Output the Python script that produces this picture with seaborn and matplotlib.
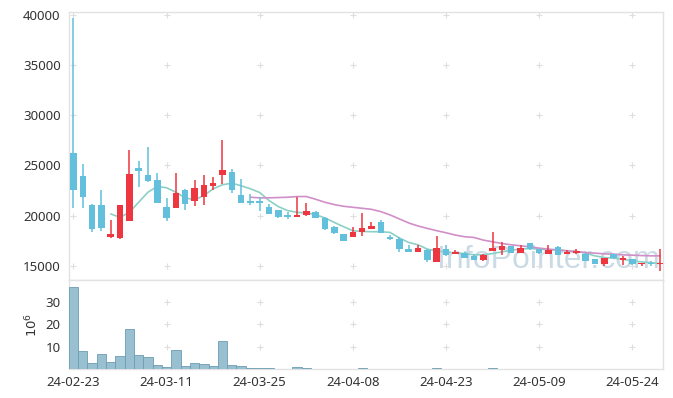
import numpy as np
import matplotlib
matplotlib.use("Agg")
import matplotlib.pyplot as plt
import seaborn as sns

# daily candles (KRW)
opens = [26200, 23900, 21100, 21100, 17900, 17800, 19500, 24700, 24000, 23500,
         20900, 20800, 22500, 21500, 21900, 22950, 24050, 24300, 22100, 21500,
         21500, 20900, 20550, 20100, 19850, 20030, 20370, 19770, 18830, 18170,
         17900, 18400, 18700, 19330, 17830, 17700, 16670, 16430, 16600, 15430,
         16700, 16170, 16300, 16000, 15600, 16500, 16600, 17000, 16330, 17230,
         16670, 16230, 16900, 16170, 16270, 16230, 15650, 15170, 16170, 15600,
         15650, 15200, 15300, 15150]
highs = [39700, 25100, 21150, 22500, 19600, 21100, 26500, 25400, 26800, 24200,
         21800, 24200, 22650, 23500, 24000, 23800, 27500, 24600, 23600, 22200,
         21850, 21150, 20600, 20330, 21900, 21270, 20450, 19850, 19000, 18200,
         18830, 20230, 19400, 19570, 18030, 17900, 17100, 17100, 16650, 18000,
         17100, 16570, 16350, 16230, 16170, 18330, 17330, 17000, 17100, 17270,
         16700, 17070, 16970, 16570, 16730, 16330, 15700, 15830, 16230, 16000,
         15670, 15330, 15500, 16700]
lows = [20800, 20800, 18350, 18500, 17800, 17650, 19450, 22800, 23300, 21250,
        19500, 20750, 20600, 21000, 21100, 22500, 23100, 22300, 21250, 21100,
        20450, 20130, 19800, 19650, 19830, 20000, 19750, 18570, 18200, 17450,
        17830, 18000, 18670, 18230, 17600, 16430, 16400, 16400, 15430, 15400,
        16000, 16170, 15800, 15600, 15530, 16470, 16100, 16270, 16300, 16630,
        16230, 16200, 16070, 16150, 16170, 15470, 15170, 15000, 15700, 15070,
        15100, 14970, 15000, 14500]
closes = [22500, 21900, 18700, 18800, 18200, 21100, 24100, 24450, 23400, 21300,
          19800, 22300, 21200, 22700, 23000, 23200, 24500, 22500, 21300, 21300,
          21250, 20170, 19830, 19900, 20100, 20500, 19770, 18700, 18230, 17500,
          18400, 18800, 18930, 18230, 17630, 16700, 16430, 16800, 15600, 16830,
          16100, 16430, 15830, 15600, 16100, 16830, 17000, 16270, 16770, 16670,
          16270, 16600, 16100, 16400, 16500, 15500, 15170, 15770, 15770, 15700,
          15150, 15300, 15150, 15250]

# volume in millions of shares
volume = [36.3, 8.1, 2.6, 6.6, 3.0, 5.7, 17.9, 6.2, 5.3, 1.7,
          0.8, 8.4, 1.2, 2.6, 2.1, 1.2, 12.5, 1.7, 1.2, 0.4,
          0.3, 0.3, 0, 0, 0.9, 0.4, 0, 0, 0, 0,
          0, 0.3, 0, 0, 0, 0, 0, 0, 0, 0.3,
          0, 0, 0, 0, 0, 0.3, 0, 0, 0, 0,
          0, 0, 0, 0, 0, 0, 0, 0, 0, 0,
          0, 0, 0, 0]

# moving averages as drawn (5-day starts at candle 4, 20-day at candle 19)
ma5 = [20170, 19830, 20330, 21330, 22330, 22900, 22770, 22330, 21770, 21570,
       22000, 22670, 23070, 23230, 22970, 22670, 22300, 21500, 20900, 20500,
       20330, 20270, 20100, 19770, 19330, 18900, 18500, 18430, 18400, 18400,
       18330, 17770, 17330, 17100, 16670, 16500, 16380, 16280, 16230, 16100,
       16100, 16230, 16400, 16570, 16670, 16730, 16670, 16600, 16570, 16500,
       16430, 16270, 16000, 15830, 15770, 15670, 15500, 15400, 15330, 15230]
ma20 = [21830, 21770, 21770, 21800, 21830, 21900, 21900, 21630, 21330, 21100,
        20930, 20830, 20730, 20630, 20400, 20070, 19670, 19270, 18970, 18730,
        18500, 18300, 18070, 17900, 17830, 17570, 17400, 17230, 17100, 17000,
        16900, 16770, 16670, 16600, 16500, 16430, 16330, 16270, 16200, 16170,
        16100, 16070, 16030, 16000, 16000]

tick_idx = [0, 10, 20, 30, 40, 50, 60]
tick_labels = ["24-02-23", "24-03-11", "24-03-25", "24-04-08",
               "24-04-23", "24-05-09", "24-05-24"]
price_ticks = [15000, 20000, 25000, 30000, 35000, 40000]
vol_ticks = [10, 20, 30]

UP = "#ee3640"
DOWN = "#62c0dc"
TXT = "#333333"
EDGE = "#e2e2e2"

sns.set_style("white")
plt.rcParams["font.family"] = ["Noto Sans", "DejaVu Sans"]

fig = plt.figure(figsize=(6.73, 3.98), dpi=100)
ax = fig.add_axes([69 / 673, 1 - 280 / 398, 594 / 673, 268 / 398])
axv = fig.add_axes([69 / 673, 1 - 369 / 398, 594 / 673, 89 / 398], sharex=ax)

x = np.arange(len(opens))
o = np.array(opens)
c = np.array(closes)
up = c >= o
cols = np.where(up, UP, DOWN)

# watermark sits behind the marks
ax.text(0.807, 0.045, "InfoPointer.com", transform=ax.transAxes, ha="center",
        va="baseline", fontsize=23, color="#cbdbe5", zorder=0.5,
        family="Liberation Sans")

# wicks then bodies
ax.vlines(x, lows, highs, colors=cols, linewidth=1.1, zorder=3)
body_bot = np.minimum(o, c)
body_h = np.maximum(np.abs(c - o), 140)
ax.bar(x, body_h, bottom=body_bot, width=0.7, color=cols, linewidth=0, zorder=4)

sns.lineplot(x=x[4:], y=ma5, ax=ax, color="#8ccfc6", linewidth=1.2, zorder=2)
sns.lineplot(x=x[19:], y=ma20, ax=ax, color="#d08fc8", linewidth=1.2, zorder=2)

ax.set_ylim(13600, 40250)
ax.set_xlim(-0.48, 63.3)
ax.set_yticks(price_ticks)
ax.set_yticklabels([str(v) for v in price_ticks])
ax.tick_params(axis="y", length=0, labelsize=9.5, labelcolor=TXT, pad=6)
ax.tick_params(axis="x", length=0, labelbottom=False)
ax.set_xlabel("")
ax.set_ylabel("")

# little cross marks at the grid crossings
gx, gy = np.meshgrid(tick_idx, price_ticks)
ax.scatter(gx.ravel(), gy.ravel(), marker="+", s=20, color="#dedede",
           linewidth=0.8, zorder=1)

# volume panel
axv.bar(x, volume, width=1.0, color="#98c0d0", edgecolor="#6b9db2",
        linewidth=0.6, zorder=3)
axv.set_ylim(0, 39.6)
axv.set_yticks(vol_ticks)
axv.set_yticklabels([str(v) for v in vol_ticks])
axv.tick_params(axis="y", length=0, labelsize=9.5, labelcolor=TXT, pad=6)
axv.set_xticks(tick_idx)
axv.set_xticklabels(tick_labels)
axv.tick_params(axis="x", length=0, labelsize=9.5, labelcolor=TXT, pad=5)
axv.set_ylabel("$10^6$", fontsize=9.5, color=TXT, labelpad=4)
vx, vy = np.meshgrid(tick_idx, vol_ticks)
axv.scatter(vx.ravel(), vy.ravel(), marker="+", s=20, color="#dedede",
            linewidth=0.8, zorder=1)

for a in (ax, axv):
    for s in a.spines.values():
        s.set_color(EDGE)
        s.set_linewidth(1.0)

fig.savefig("out.png", dpi=100)
